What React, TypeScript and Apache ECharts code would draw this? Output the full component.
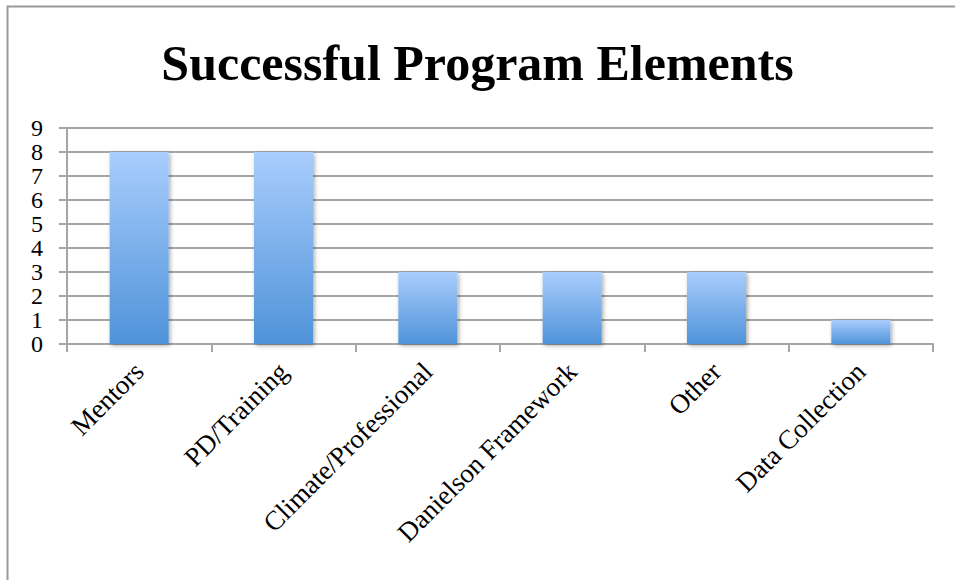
import React, { useEffect, useRef } from "react";
import * as echarts from "echarts";

const categories = ["Mentors", "PD/Training", "Climate/Professional", "Danielson Framework", "Other", "Data Collection"];
const values = [8, 8, 3, 3, 3, 1];
const titleText = "Successful Program Elements";

export default function App() {
  const ref = useRef<HTMLDivElement>(null);
  useEffect(() => {
    const chart = echarts.init(ref.current!, null, { renderer: "svg" });
    chart.setOption({
      animation: false,
      backgroundColor: "#ffffff",
      title: {
        text: titleText,
        left: "center",
        top: 33,
        textStyle: { fontFamily: "Liberation Serif", fontWeight: "bold", fontSize: 50, color: "#000" },
      },
      graphic: [
        {
          type: "rect",
          shape: { x: 7.5, y: 6.5, width: 1000, height: 1000 },
          style: { fill: "none", stroke: "#9a9a9a", lineWidth: 2 },
          silent: true,
          z: -1,
        },
      ],
      grid: { left: 67, right: 22, top: 128, bottom: 236 },
      xAxis: {
        type: "category",
        data: categories,
        axisLine: { show: true, lineStyle: { color: "#a6a6a6", width: 2 } },
        axisTick: { show: true, alignWithLabel: false, length: 8, lineStyle: { color: "#a6a6a6", width: 2 } },
        axisLabel: {
          rotate: 45,
          interval: 0,
          margin: 23,
          fontFamily: "Liberation Serif",
          fontSize: 27,
          color: "#000",
        },
      },
      yAxis: {
        type: "value",
        min: 0,
        max: 9,
        interval: 1,
        axisLine: { show: true, lineStyle: { color: "#a6a6a6", width: 2 } },
        axisTick: { show: true, length: 8, lineStyle: { color: "#a6a6a6", width: 2 } },
        splitLine: { show: true, lineStyle: { color: "#a6a6a6", width: 2 } },
        axisLabel: {
          margin: 24,
          fontFamily: "Liberation Serif",
          fontSize: 24,
          color: "#000",
          showMinLabel: true,
          showMaxLabel: true,
        },
      },
      series: [
        {
          type: "bar",
          data: values,
          barWidth: 59,
          itemStyle: {
            color: new echarts.graphic.LinearGradient(0, 0, 0, 1, [
              { offset: 0, color: "#a9cdfd" },
              { offset: 1, color: "#4f93d9" },
            ]),
            shadowColor: "rgba(0,0,0,0.35)",
            shadowBlur: 4,
            shadowOffsetX: 1.5,
            shadowOffsetY: 1.5,
          },
        },
      ],
    });
    return () => chart.dispose();
  }, []);
  return <div ref={ref} style={{ position: "absolute", left: 0, top: 0, width: 955, height: 580 }} />;
}
